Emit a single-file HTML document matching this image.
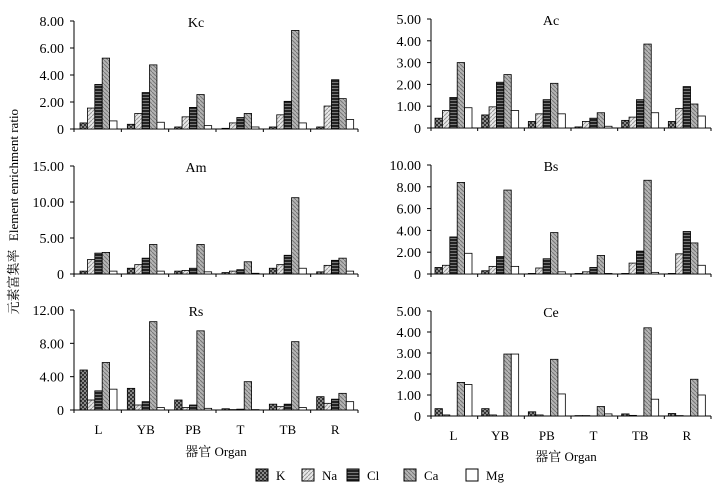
<!DOCTYPE html>
<html><head><meta charset="utf-8">
<style>
body{margin:0;background:#fff;}
svg text{font-family:"Liberation Serif","Noto Serif CJK SC",serif;fill:#000;}
</style></head>
<body>
<svg id="chart" width="719" height="494" viewBox="0 0 719 494">
<defs>
<pattern id="pK" width="4" height="4" patternUnits="userSpaceOnUse"><rect width="4" height="4" fill="#888"/><rect width="2" height="2" fill="#333"/><rect x="2" y="2" width="2" height="2" fill="#333"/></pattern>
<pattern id="pNa" width="4" height="4" patternUnits="userSpaceOnUse"><rect width="4" height="4" fill="#e8e8e8"/><path d="M0 4L4 0" stroke="#999" stroke-width="1"/></pattern>
<pattern id="pCl" width="3" height="3" patternUnits="userSpaceOnUse"><rect width="3" height="3" fill="#222"/><rect y="1" width="3" height="1" fill="#777"/></pattern>
<pattern id="pCa" width="4" height="4" patternUnits="userSpaceOnUse"><rect width="4" height="4" fill="#b5b5b5"/><path d="M0 0L4 4" stroke="#777" stroke-width="1"/></pattern>
</defs>
<g id="panels"></g>
<text x="18" y="175" transform="rotate(-90 18 175)" text-anchor="middle" font-size="13">Element enrichment ratio</text>
<text x="18" y="282" transform="rotate(-90 18 282)" text-anchor="middle" font-size="13">元素富集率</text>
<text x="216" y="456" text-anchor="middle" font-size="13">器官  Organ</text>
<text x="566" y="461" text-anchor="middle" font-size="13">器官  Organ</text>
<g id="legend"></g>
</svg>
<script>
const organs = ["L","YB","PB","T","TB","R"];
const elements = ["K","Na","Cl","Ca","Mg"];
const kcValues = [[0.45,1.55,3.3,5.25,0.6],[0.35,1.15,2.7,4.75,0.5],[0.15,0.9,1.6,2.55,0.25],[0.05,0.45,0.85,1.15,0.15],[0.15,1.05,2.05,7.3,0.45],[0.15,1.7,3.65,2.25,0.7]];
const acValues = [[0.45,0.8,1.4,3.0,0.93],[0.6,0.97,2.1,2.45,0.8],[0.3,0.65,1.3,2.05,0.65],[0.05,0.3,0.45,0.7,0.08],[0.35,0.5,1.3,3.85,0.7],[0.3,0.9,1.9,1.1,0.55]];
const amValues = [[0.4,2.0,2.9,3.0,0.4],[0.8,1.3,2.2,4.1,0.4],[0.4,0.5,0.8,4.1,0.3],[0.2,0.4,0.6,1.7,0.1],[0.8,1.3,2.6,10.6,0.8],[0.3,1.2,1.9,2.2,0.4]];
const bsValues = [[0.6,0.8,3.4,8.4,1.9],[0.3,0.7,1.6,7.7,0.7],[0.05,0.55,1.4,3.8,0.2],[0.05,0.2,0.6,1.7,0.05],[0.05,1.0,2.1,8.6,0.15],[0.05,1.85,3.9,2.85,0.8]];
const rsValues = [[4.8,1.2,2.3,5.7,2.5],[2.6,0.6,1.0,10.6,0.3],[1.2,0.3,0.6,9.5,0.2],[0.15,0.05,0.1,3.4,0.05],[0.7,0.4,0.7,8.2,0.3],[1.6,0.8,1.3,2.0,1.0]];
const ceValues = [[0.35,0.05,0,1.6,1.5],[0.35,0.05,0,2.95,2.95],[0.2,0.05,0,2.7,1.05],[0.02,0.02,0,0.45,0.1],[0.1,0.03,0,4.2,0.8],[0.12,0.02,0,1.75,1.0]];
const kcTicks = ["0","2.00","4.00","6.00","8.00"];
const acTicks = ["0","1.00","2.00","3.00","4.00","5.00"];
const amTicks = ["0","5.00","10.00","15.00"];
const bsTicks = ["0","2.00","4.00","6.00","8.00","10.00"];
const rsTicks = ["0","4.00","8.00","12.00"];
const ceTicks = ["0","1.00","2.00","3.00","4.00","5.00"];

const fills = ["url(#pK)","url(#pNa)","url(#pCl)","url(#pCa)","#fff"];
const NS = "http://www.w3.org/2000/svg";
function mk(tag, attrs, parent){const e=document.createElementNS(NS,tag);for(const k in attrs)e.setAttribute(k,attrs[k]);parent.appendChild(e);return e;}
const root = document.getElementById('panels');

const panels = [
 {name:"Kc",vals:kcValues,ticks:kcTicks,max:8,x0:74,x1:358,top:21,zero:129,off:6,labels:false},
 {name:"Ac",vals:acValues,ticks:acTicks,max:5,x0:431,x1:711,top:19,zero:128,off:4,labels:false},
 {name:"Am",vals:amValues,ticks:amTicks,max:15,x0:74,x1:358,top:166,zero:274,off:6,labels:false},
 {name:"Bs",vals:bsValues,ticks:bsTicks,max:10,x0:431,x1:711,top:165,zero:274,off:4,labels:false},
 {name:"Rs",vals:rsValues,ticks:rsTicks,max:12,x0:74,x1:358,top:310,zero:410,off:6,labels:true,ly:434},
 {name:"Ce",vals:ceValues,ticks:ceTicks,max:5,x0:431,x1:711,top:311,zero:416,off:4,labels:true,ly:440}
];
panels.forEach(p=>{
  const g = mk('g',{},root);
  
  
  const y = v => p.zero - v/p.max*(p.zero-p.top);
  const gw = (p.x1-p.x0)/organs.length;
  const bw = 7.4;
  // y axis
  const ya = mk('line',{x1:p.x0,y1:p.top,x2:p.x0,y2:p.zero,stroke:'#000','stroke-width':1},g);
  
  
  const xa = mk('line',{x1:p.x0,y1:p.zero,x2:p.x1,y2:p.zero,stroke:'#000','stroke-width':1},g);
  
  
  p.ticks.forEach((t,i)=>{
    const v = i*p.max/(p.ticks.length-1);
    mk('line',{x1:p.x0-4,y1:y(v),x2:p.x0,y2:y(v),stroke:'#000'},g);
    const tx = mk('text',{x:p.x0-10,y:y(v)+5,'text-anchor':'end','font-size':14},g);
    tx.textContent = t;
    
    
  });
  for(let i=0;i<=organs.length;i++){
    mk('line',{x1:p.x0+i*gw,y1:p.zero,x2:p.x0+i*gw,y2:p.zero+3,stroke:'#000'},g);
  }
  const tt = mk('text',{x:(p.x0+p.x1)/2-20,y:p.top+6,'text-anchor':'middle','font-size':14},g);
  tt.textContent = p.name;
  
  
  p.vals.forEach((grp,gi)=>{
    grp.forEach((v,ei)=>{
      const bx = p.x0+gi*gw+p.off+ei*bw;
      const r = mk('rect',{x:bx,y:y(v),width:bw,height:Math.max(0,p.zero-y(v)),fill:fills[ei],stroke:'#000','stroke-width':0.8},g);
      
      
    });
    if(p.labels){
      const lt = mk('text',{x:p.x0+gi*gw+p.off+2.5*bw,y:p.ly,'text-anchor':'middle','font-size':13},g);
      lt.textContent = organs[gi];
      
      
    }
  });
});
const lg = document.getElementById('legend');
const lx = [256,302,347,404,466];
elements.forEach((e,i)=>{
  const r = mk('rect',{x:lx[i],y:469,width:12,height:12,fill:fills[i],stroke:'#000'},lg);
  
  
  const t = mk('text',{x:lx[i]+20,y:480,'font-size':13},lg);
  t.textContent = e;
  
  
});
</script>
</body></html>
